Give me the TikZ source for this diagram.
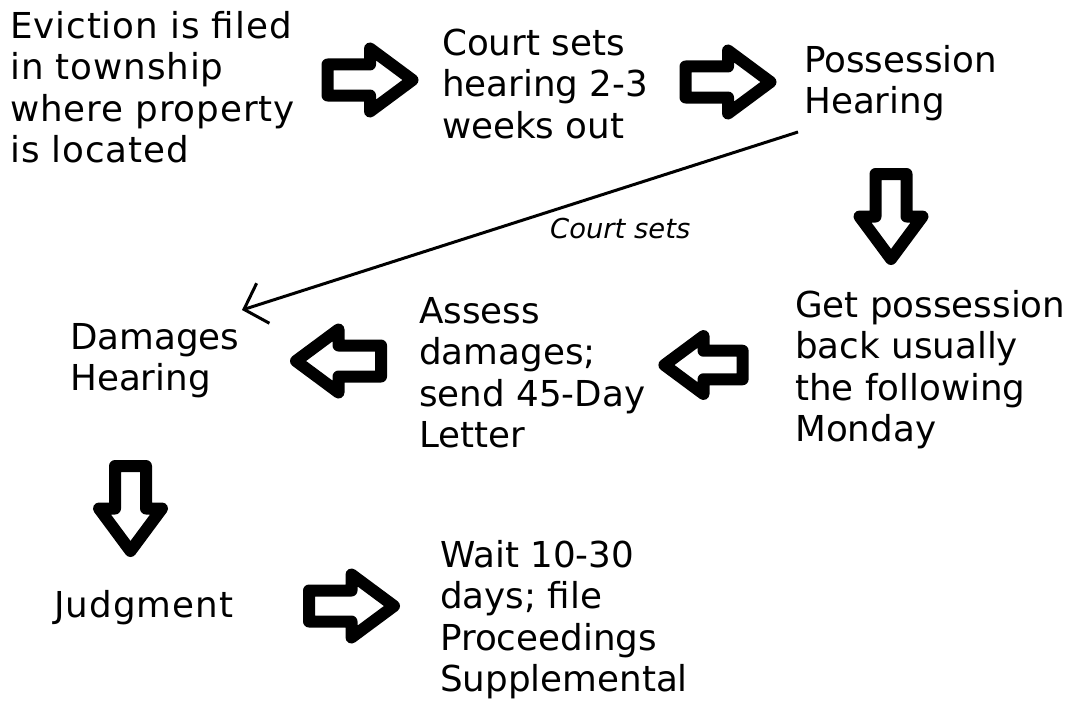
\documentclass[tikz,border=0pt]{standalone}
\usepackage{fontspec}
\setmainfont{DejaVu Sans}
\usetikzlibrary{arrows.meta}
\tikzset{
  txt/.style={font=\fontsize{35.7}{41.5}\selectfont, align=left, inner sep=0pt, anchor=north west},
  wide/.style={font=\fontsize{35.7}{41.5}\selectfont\addfontfeature{LetterSpace=#1}},
  lbl/.style={font=\fontsize{27.4}{32}\selectfont\itshape, inner sep=0pt, anchor=base west},
  blk/.style={draw=black, fill=white, line width=12pt, line join=round},
  conn/.style={line width=3pt, -{Straight Barb[length=20pt,width=42pt,line width=3pt]}},
  pics/blockarrow/.style={code={
    \draw[blk] (-42.5,15.5) -- (0,15.5) -- (0,31.5) -- (42.5,0) -- (0,-31.5) -- (0,-15.5) -- (-42.5,-15.5) -- cycle;
  }}
}
\begin{document}
\begin{tikzpicture}[x=1pt,y=-1pt]
\fill[white] (0,0) rectangle (1076,701);
\useasboundingbox (0,0) rectangle (1076,701);
% text nodes (first baseline = y + 29.05)
\node[txt, wide=2.5] (t1) at (10,8.95) {\strut Eviction is filed\\in township\\where property\\is located};
\node[txt] (t2) at (442,25.95) {\strut Court sets\\hearing 2-3\\weeks out};
\node[txt] (t3) at (804,42.95) {\strut Possession\\Hearing};
\node[txt] (t4) at (795,287.95) {\strut Get possession\\back usually\\the following\\Monday};
\node[txt] (t5) at (419,293.95) {\strut Assess\\damages;\\send 45-Day\\Letter};
\node[txt] (t6) at (70,319.95) {\strut Damages\\Hearing};
\node[txt, wide=3] (t7) at (54,587.95) {\strut Judgment};
\node[txt] (t8) at (440,537.95) {\strut Wait 10-30\\days; file\\Proceedings\\Supplemental};
\node[lbl] (cs) at (550,238) {Court sets};
% block arrows
\pic (a1) at (370,80) {blockarrow};
\pic (a2) at (728,82) {blockarrow};
\pic[rotate=-90] (a3) at (891,216.5) {blockarrow};
\pic[rotate=180, scale=0.92] (a4) at (703.5,365) {blockarrow};
\pic[rotate=180] (a5) at (338.5,361) {blockarrow};
\pic[rotate=-90] (a6) at (130.5,508.5) {blockarrow};
\pic (a7) at (351.5,606) {blockarrow};
% connector
\coordinate (ls) at (798,132);
\coordinate (le) at (242,310);
\draw[conn] (ls) -- (le);
\end{tikzpicture}
\end{document}
